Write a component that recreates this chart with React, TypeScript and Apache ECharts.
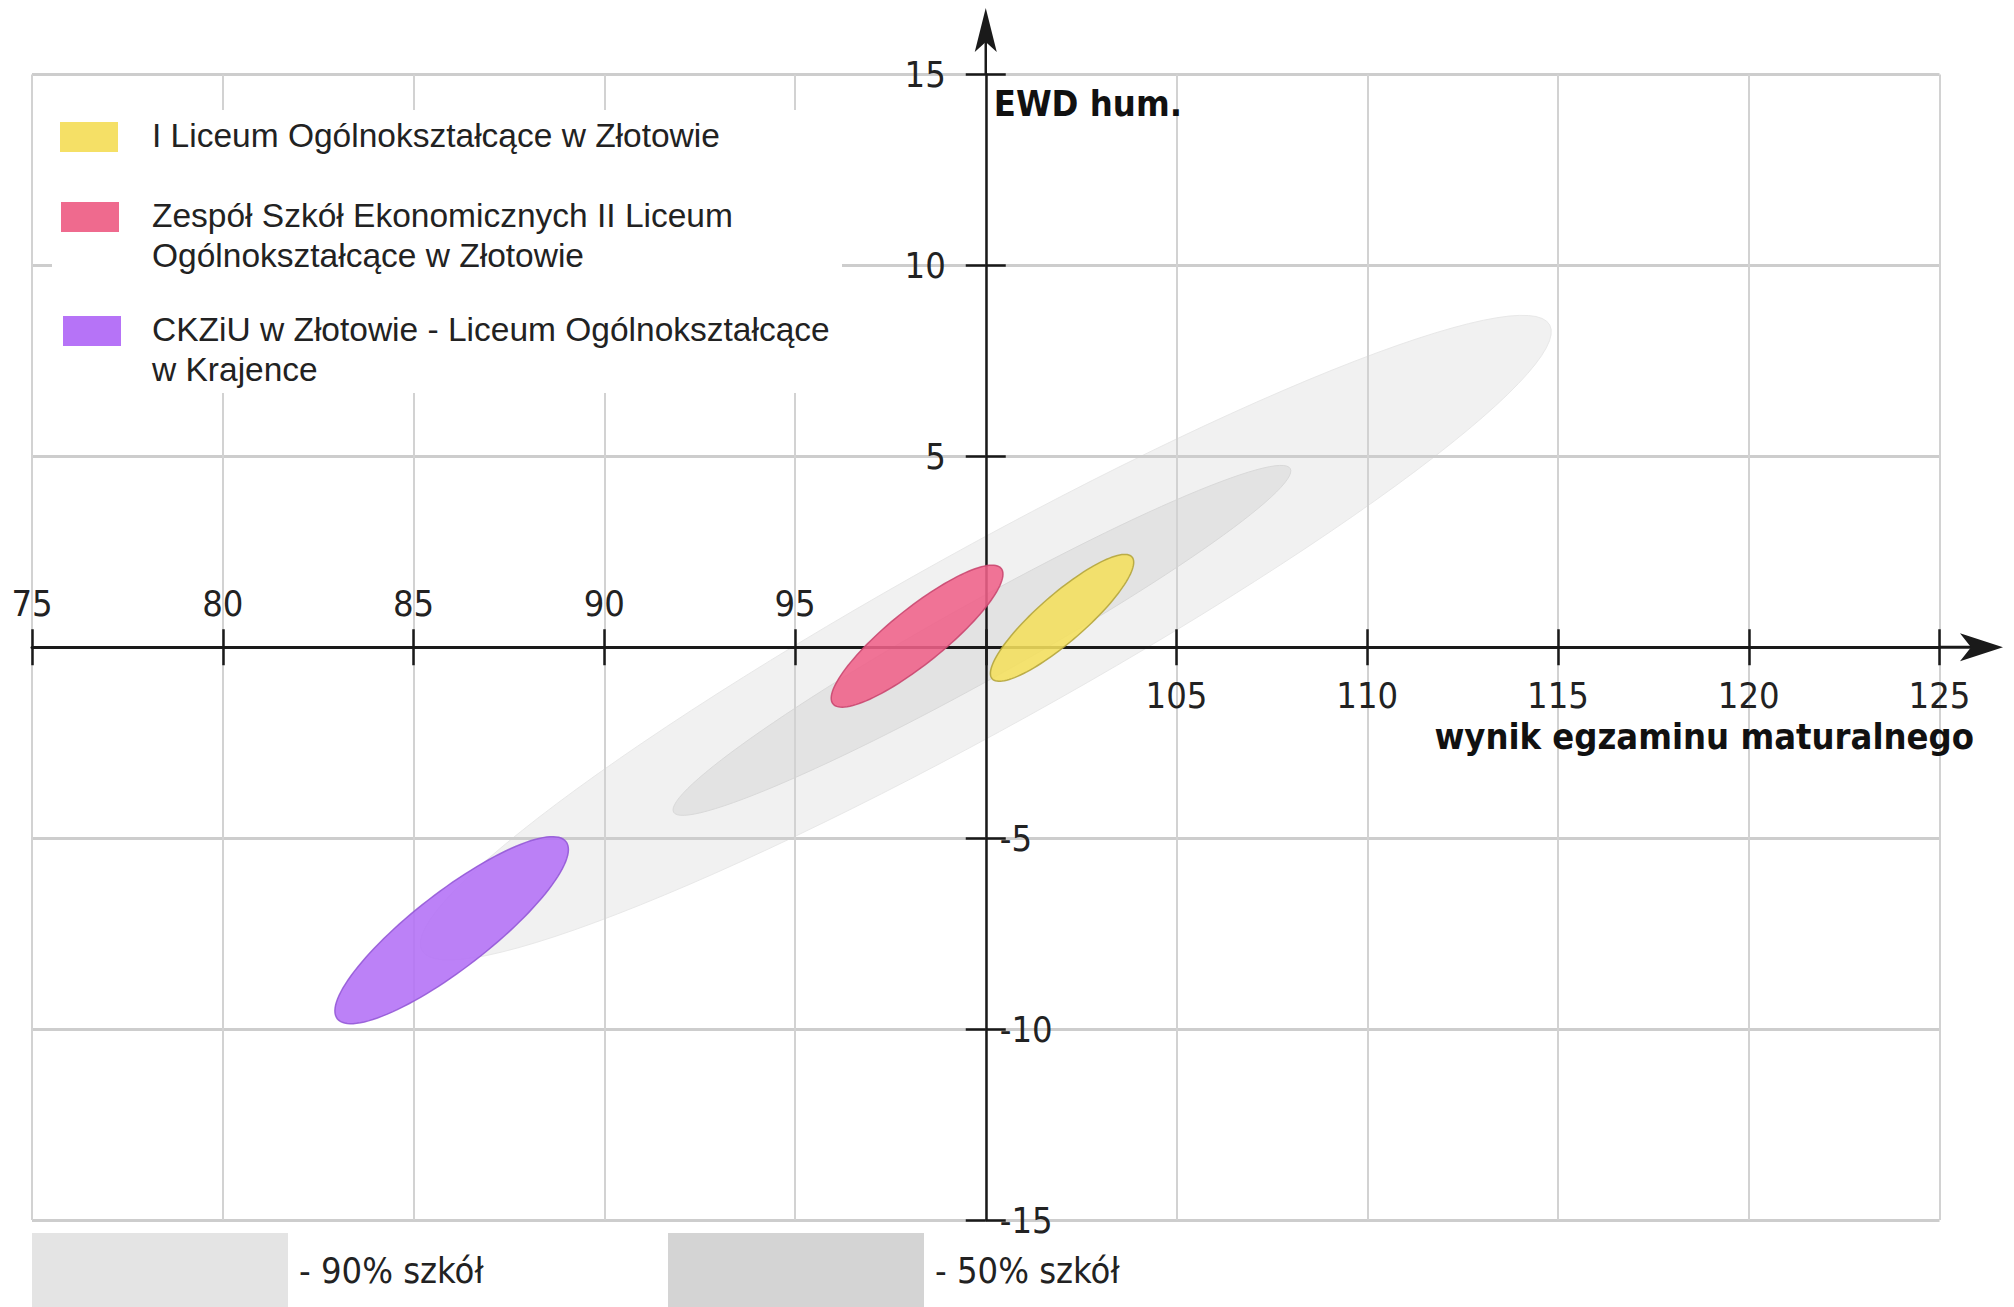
import React, { useEffect, useRef } from 'react';
import * as echarts from 'echarts';

// ---- axes ----
const X_MIN = 75;
const X_MAX = 125;
const X_STEP = 5;
const X_CROSS = 100; // score at which the vertical EWD axis crosses
const Y_MIN = -15;
const Y_MAX = 15;
const Y_STEP = 5;
const Y_CROSS = 0;
const X_AXIS_NAME = 'wynik egzaminu maturalnego';
const Y_AXIS_NAME = 'EWD hum.';

// ---- ellipses (data units: score / EWD) ----
const ellipseNames = [
  '90% szkół',
  '50% szkół',
  'I Liceum Ogólnokształcące w Złotowie',
  'Zespół Szkół Ekonomicznych II Liceum Ogólnokształcące w Złotowie',
  'CKZiU w Złotowie - Liceum Ogólnokształcące w Krajence',
];
const centerScore = [100.0, 99.9, 102.0, 98.2, 86.0];
const centerEwd = [0.25, 0.18, 0.77, 0.29, -7.41];
const semiMajor = [16.9, 9.25, 2.43, 2.83, 3.79];
const semiMinor = [2.33, 1.0, 0.62, 0.72, 1.0];
const tiltDeg = [29, 29.1, 41, 38.8, 37.7];

// ---- legends ----
const schoolLegendLines = [
  ['I Liceum Ogólnokształcące w Złotowie'],
  ['Zespół Szkół Ekonomicznych II Liceum', 'Ogólnokształcące w Złotowie'],
  ['CKZiU w Złotowie - Liceum Ogólnokształcące', 'w Krajence'],
];
const bandLegend = ['90% szkół', '50% szkół'];

// ---- styles / layout ----
const FILL = ['#f1f1f1', '#e3e3e3', '#f4df5c', '#ef6189', '#b36ff6'];
const STROKE = ['#e8e8e8', '#d9d9d9', '#b3a43a', '#c8466e', '#9257d6'];
const SWATCH = ['#f5e066', '#ef6a8e', '#b673f7'];
const BAND_SWATCH = ['#e4e4e4', '#d4d4d4'];
const COND = "'DejaVu Sans Condensed', 'DejaVu Sans', sans-serif";
const SANS = "'Liberation Sans', Arial, sans-serif";
const INK = '#1a1a1a';
const W = 2014;
const H = 1307;
const GRID = { left: 32, right: 74.5, top: 74.5, bottom: 87 };

export default function App() {
  const ref = useRef<HTMLDivElement>(null);

  useEffect(() => {
    const el = ref.current;
    if (!el) return;
    const chart = echarts.init(el, null, { renderer: 'svg' });

    const gridW = W - GRID.left - GRID.right;
    const gridH = H - GRID.top - GRID.bottom;
    // shift the axes into the plot so they cross at (X_CROSS, Y_CROSS)
    const xAxisOffset = -gridH * ((Y_CROSS - Y_MIN) / (Y_MAX - Y_MIN));
    const yAxisOffset = -gridW * ((X_CROSS - X_MIN) / (X_MAX - X_MIN));

    const tickLabel = { fontFamily: COND, fontSize: 36, color: '#222' };

    const series = ellipseNames.map((name, i) => ({
      type: 'custom',
      name,
      xAxisIndex: 0,
      yAxisIndex: 0,
      z: i < 2 ? 1 : 5,
      silent: true,
      clip: false,
      itemStyle: { color: FILL[i] },
      encode: { x: 0, y: 1 },
      data: [[centerScore[i], centerEwd[i], semiMajor[i], semiMinor[i], tiltDeg[i]]],
      renderItem: (params: any, api: any) => {
        const cx = api.value(0);
        const cy = api.value(1);
        const a = api.value(2);
        const b = api.value(3);
        const th = (api.value(4) * Math.PI) / 180;
        const pts: number[][] = [];
        const N = 120;
        for (let k = 0; k < N; k++) {
          const t = (k / N) * Math.PI * 2;
          const dx = a * Math.cos(t) * Math.cos(th) - b * Math.sin(t) * Math.sin(th);
          const dy = a * Math.cos(t) * Math.sin(th) + b * Math.sin(t) * Math.cos(th);
          pts.push(api.coord([cx + dx, cy + dy]));
        }
        return {
          type: 'polygon',
          shape: { points: pts },
          style: {
            fill: FILL[i],
            stroke: STROKE[i],
            lineWidth: i < 2 ? 1 : 1.5,
            opacity: i < 2 ? 1 : 0.88,
          },
        };
      },
    }));

    const xBase = {
      type: 'value',
      min: X_MIN,
      max: X_MAX,
      interval: X_STEP,
      position: 'bottom',
      z: 3,
    };
    const yBase = {
      type: 'value',
      min: Y_MIN,
      max: Y_MAX,
      interval: Y_STEP,
      position: 'left',
      z: 3,
    };

    const option: any = {
      animation: false,
      backgroundColor: '#ffffff',
      grid: { ...GRID, containLabel: false, outerBoundsMode: 'none' },
      xAxis: [
        {
          // grid lines only
          ...xBase,
          axisLine: { show: false, onZero: false },
          axisTick: { show: false },
          axisLabel: { show: false },
          splitLine: { show: true, lineStyle: { color: '#d2d2d2', width: 2 } },
        },
        {
          ...xBase,
          offset: xAxisOffset,
          axisLine: { show: true, onZero: false, lineStyle: { color: INK, width: 3 } },
          axisTick: { show: true, inside: false, length: 18, lineStyle: { color: INK, width: 2.5 } },
          axisLabel: {
            ...tickLabel,
            margin: 30,
            formatter: (v: number) => (v > X_CROSS ? String(v) : ''),
          },
          splitLine: { show: false },
        },
        {
          ...xBase,
          offset: xAxisOffset,
          axisLine: { show: false, onZero: false },
          axisTick: { show: true, inside: true, length: 18, lineStyle: { color: INK, width: 2.5 } },
          axisLabel: {
            ...tickLabel,
            inside: true,
            margin: 26,
            formatter: (v: number) => (v < X_CROSS ? String(v) : ''),
          },
          splitLine: { show: false },
        },
      ],
      yAxis: [
        {
          ...yBase,
          axisLine: { show: false, onZero: false },
          axisTick: { show: false },
          axisLabel: { show: false },
          splitLine: { show: true, lineStyle: { color: '#cdcdcd', width: 3 } },
        },
        {
          ...yBase,
          offset: yAxisOffset,
          name: Y_AXIS_NAME,
          nameLocation: 'end',
          nameGap: -29,
          nameTextStyle: {
            fontFamily: COND,
            fontWeight: 'bold',
            fontSize: 36,
            color: '#111',
            align: 'left',
            verticalAlign: 'middle',
            padding: [0, 0, 0, 8],
          },
          axisLine: { show: true, onZero: false, lineStyle: { color: INK, width: 2.5 } },
          axisTick: { show: true, inside: false, length: 20, lineStyle: { color: INK, width: 2.5 } },
          axisLabel: {
            ...tickLabel,
            margin: 40,
            formatter: (v: number) => (v > Y_CROSS ? String(v) : ''),
          },
          splitLine: { show: false },
        },
        {
          ...yBase,
          offset: yAxisOffset,
          axisLine: { show: false, onZero: false },
          axisTick: { show: true, inside: true, length: 20, lineStyle: { color: INK, width: 2.5 } },
          axisLabel: {
            ...tickLabel,
            inside: true,
            margin: 14,
            formatter: (v: number) => (v < Y_CROSS ? String(v) : ''),
          },
          splitLine: { show: false },
        },
      ],
      legend: bandLegend.map((name, i) => ({
        show: true,
        data: [{ name, itemStyle: { color: BAND_SWATCH[i], borderWidth: 0 } }],
        left: i === 0 ? 32 : 668,
        top: 1233,
        padding: 0,
        itemWidth: 256,
        itemHeight: 74,
        icon: 'rect',
        selectedMode: false,
        formatter: '- {name}',
        textStyle: { fontFamily: COND, fontSize: 36, color: '#222', padding: [0, 0, 0, 6] },
      })),
      series,
    };

    chart.setOption(option);

    const top = chart.convertToPixel({ xAxisIndex: 0, yAxisIndex: 0 }, [X_CROSS, Y_MAX]) as number[];
    const right = chart.convertToPixel({ xAxisIndex: 0, yAxisIndex: 0 }, [X_MAX, Y_CROSS]) as number[];
    const tx = top[0];
    const ry = right[1];

    const elements: any[] = [];
    // axis extensions and arrowheads
    elements.push({
      type: 'line',
      z: 20,
      shape: { x1: tx, y1: top[1], x2: tx, y2: 18 },
      style: { stroke: INK, lineWidth: 2.5 },
    });
    elements.push({
      type: 'polygon',
      z: 20,
      shape: { points: [[tx, 8], [tx - 11, 52], [tx, 42], [tx + 11, 52]] },
      style: { fill: INK },
    });
    elements.push({
      type: 'line',
      z: 20,
      shape: { x1: right[0], y1: ry, x2: 1990, y2: ry },
      style: { stroke: INK, lineWidth: 3 },
    });
    elements.push({
      type: 'polygon',
      z: 20,
      shape: { points: [[2003, ry], [1960, ry - 14], [1971, ry], [1960, ry + 14]] },
      style: { fill: INK },
    });
    // horizontal axis title, right-aligned just past the axis end
    elements.push({
      type: 'text',
      z: 20,
      x: right[0] + 34.5,
      y: ry + 89.5,
      style: {
        text: X_AXIS_NAME,
        fontFamily: COND,
        fontWeight: 'bold',
        fontSize: 36,
        fill: '#111',
        align: 'right',
        verticalAlign: 'middle',
      },
    });

    // school legend (top-left)
    elements.push({
      type: 'rect',
      z: 30,
      shape: { x: 52, y: 110, width: 790, height: 283 },
      style: { fill: '#ffffff' },
    });
    const swatchTop = [122, 202, 316];
    const swatchLeft = [60, 61, 63];
    schoolLegendLines.forEach((lines, i) => {
      elements.push({
        type: 'rect',
        z: 31,
        shape: { x: swatchLeft[i], y: swatchTop[i], width: 58, height: 30 },
        style: { fill: SWATCH[i] },
      });
      lines.forEach((line, j) => {
        elements.push({
          type: 'text',
          z: 31,
          x: 152,
          y: swatchTop[i] + 13 + j * 40,
          style: {
            text: line,
            fontFamily: SANS,
            fontSize: 33.5,
            fill: '#222',
            align: 'left',
            verticalAlign: 'middle',
          },
        });
      });
    });

    chart.setOption({ graphic: { elements } });

    return () => {
      chart.dispose();
    };
  }, []);

  return (
    <div
      ref={ref}
      style={{ position: 'fixed', left: 0, top: 0, width: W, height: H, background: '#fff' }}
    />
  );
}
